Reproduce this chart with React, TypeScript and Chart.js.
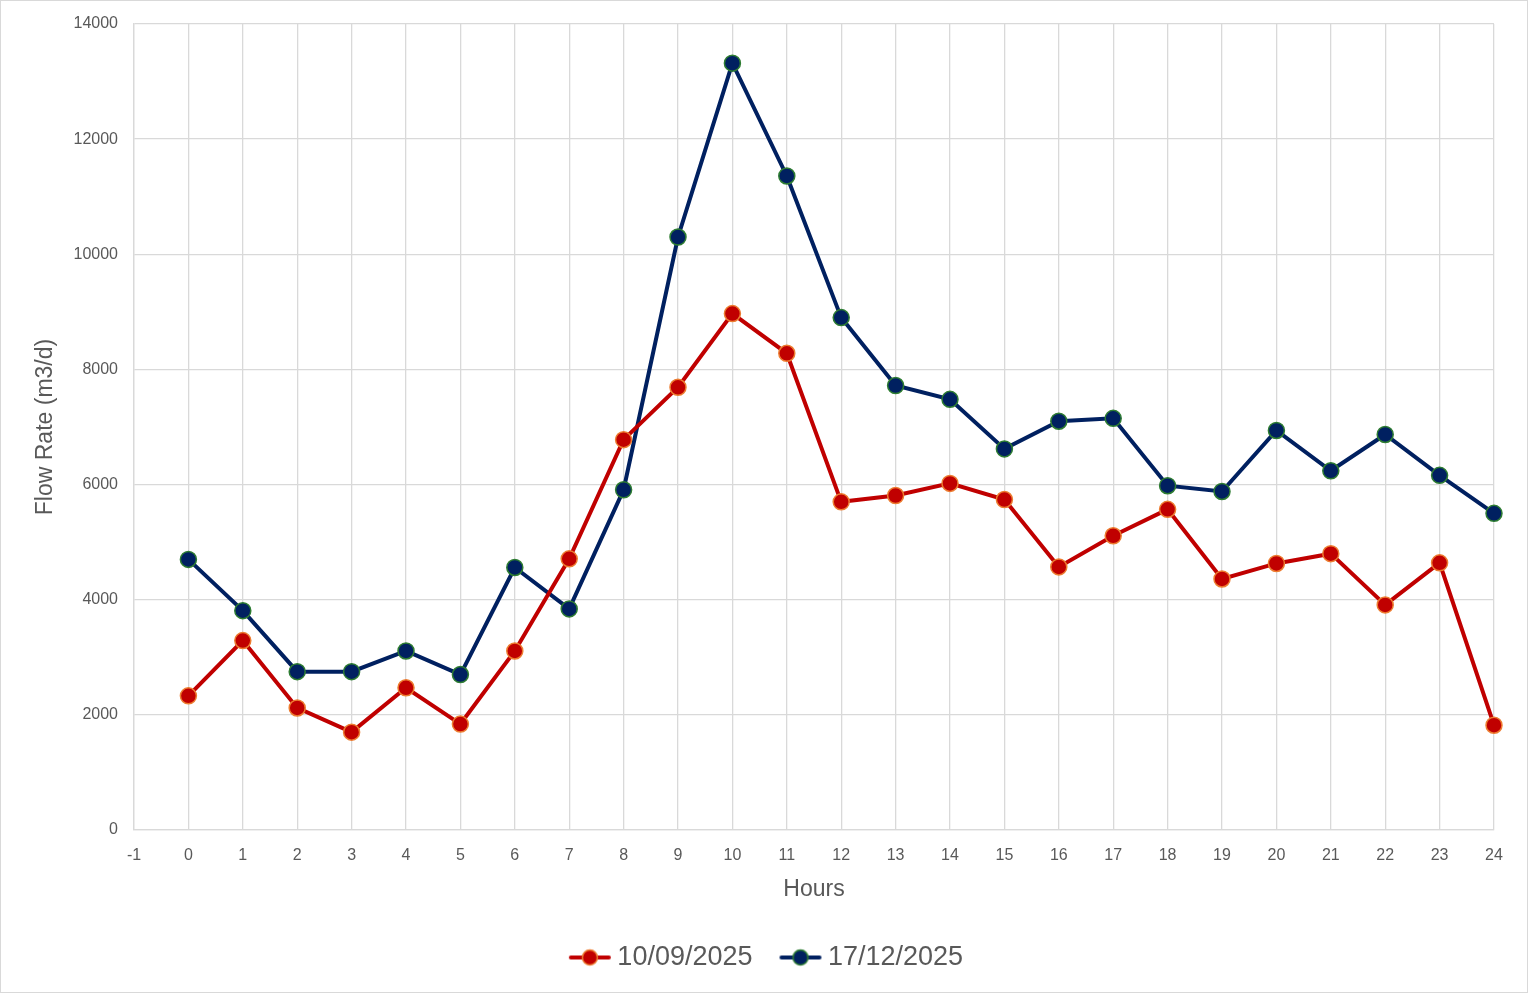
import { useEffect, useRef } from 'react';
import { Chart, registerables } from 'chart.js';

Chart.register(...registerables);

// Hours 0..24
const hours = [0, 1, 2, 3, 4, 5, 6, 7, 8, 9, 10, 11, 12, 13, 14, 15, 16, 17, 18, 19, 20, 21, 22, 23, 24];

const flowSep = [
  2330, 3290, 2120, 1700, 2470, 1840, 3110, 4710, 6780, 7690, 8970, 8280, 5700,
  5810, 6020, 5740, 4570, 5110, 5570, 4360, 4630, 4800, 3910, 4640, 1820
];

const flowDec = [
  4700, 3810, 2750, 2750, 3110, 2700, 4560, 3840, 5910, 10300, 13320, 11360, 8900,
  7720, 7480, 6620, 7100, 7150, 5980, 5880, 6940, 6240, 6870, 6160, 5500
];

const seriesNames = ['10/09/2025', '17/12/2025'];

const FONT = "'Liberation Sans', Arial, sans-serif";
const TEXT = '#595959';
const GRID = '#d9d9d9';

function legendIcon(line: string, fill: string, border: string) {
  const c = document.createElement('canvas');
  c.width = 44;
  c.height = 20;
  const ctx = c.getContext('2d')!;
  ctx.strokeStyle = line;
  ctx.lineWidth = 4;
  ctx.lineCap = 'round';
  ctx.beginPath();
  ctx.moveTo(3, 10);
  ctx.lineTo(41, 10);
  ctx.stroke();
  ctx.beginPath();
  ctx.arc(22, 10, 7.5, 0, Math.PI * 2);
  ctx.fillStyle = fill;
  ctx.fill();
  ctx.lineWidth = 1.5;
  ctx.strokeStyle = border;
  ctx.stroke();
  return c;
}

// centre the legend on the whole canvas rather than the padded area
const legendShift = {
  id: 'legendShift',
  afterLayout(chart: any) {
    if (chart.legend) {
      chart.legend.left += 22;
      chart.legend.right += 22;
    }
  }
};

export default function App() {
  const canvasRef = useRef<HTMLCanvasElement>(null);

  useEffect(() => {
    document.body.style.margin = '0';
    if (!canvasRef.current) return;

    const icons = [
      legendIcon('#C00000', '#C00000', '#ED7D31'),
      legendIcon('#002060', '#002060', '#2E7D32')
    ];

    const chart = new Chart(canvasRef.current, {
      type: 'line',
      data: {
        datasets: [
          {
            label: seriesNames[0],
            data: hours.map((h, i) => ({ x: h, y: flowSep[i] })),
            borderColor: '#C00000',
            backgroundColor: '#C00000',
            pointBackgroundColor: '#C00000',
            pointBorderColor: '#ED7D31',
            pointBorderWidth: 1.5,
            pointRadius: 8,
            borderWidth: 4,
            tension: 0,
            clip: false
          },
          {
            label: seriesNames[1],
            data: hours.map((h, i) => ({ x: h, y: flowDec[i] })),
            borderColor: '#002060',
            backgroundColor: '#002060',
            pointBackgroundColor: '#002060',
            pointBorderColor: '#2E7D32',
            pointBorderWidth: 1.5,
            pointRadius: 8,
            borderWidth: 4,
            tension: 0,
            clip: false
          }
        ]
      },
      plugins: [legendShift],
      options: {
        animation: false,
        responsive: false,
        maintainAspectRatio: false,
        layout: { autoPadding: false, padding: { top: 23, right: 33, left: 0, bottom: 11 } },
        plugins: {
          tooltip: { enabled: false },
          legend: {
            position: 'bottom',
            labels: {
              usePointStyle: true,
              pointStyleWidth: 28,
              boxHeight: 20,
              padding: 34,
              color: TEXT,
              font: { family: FONT, size: 27 },
              generateLabels: (chart: Chart) =>
                chart.data.datasets.map((d, i) => ({
                  text: d.label as string,
                  pointStyle: icons[i],
                  datasetIndex: i,
                  fontColor: TEXT,
                  lineWidth: 0,
                  hidden: false
                })) as any
            } as any
          }
        },
        scales: {
          x: {
            type: 'linear',
            min: -1,
            max: 24,
            ticks: { stepSize: 1, color: TEXT, padding: 16, font: { family: FONT, size: 16 } },
            grid: { color: GRID, lineWidth: 1.3, drawTicks: false },
            border: { color: GRID, width: 1.3 },
            title: {
              display: true,
              text: 'Hours',
              color: TEXT,
              font: { family: FONT, size: 23 },
              padding: { top: 4, bottom: 7 }
            },
            afterFit: (scale: any) => {
              scale.height = 80;
            }
          },
          y: {
            type: 'linear',
            min: 0,
            max: 14000,
            ticks: {
              stepSize: 2000,
              color: TEXT,
              padding: 16,
              font: { family: FONT, size: 16 },
              callback: (v: any) => String(v)
            },
            grid: { color: GRID, lineWidth: 1.3, drawTicks: false },
            border: { color: GRID, width: 1.3 },
            title: {
              display: true,
              text: 'Flow Rate (m3/d)',
              color: TEXT,
              font: { family: FONT, size: 23 },
              padding: { top: 31, bottom: 0 }
            },
            afterFit: (scale: any) => {
              scale.width = 133;
              scale.paddingTop = 0;
              scale.paddingBottom = 0;
            }
          }
        }
      }
    });

    return () => chart.destroy();
  }, []);

  return (
    <div
      style={{
        width: 1528,
        height: 993,
        border: '1px solid #d9d9d9',
        boxSizing: 'border-box',
        background: '#fff'
      }}
    >
      <canvas ref={canvasRef} width={1526} height={991} style={{ display: 'block' }}></canvas>
    </div>
  );
}
